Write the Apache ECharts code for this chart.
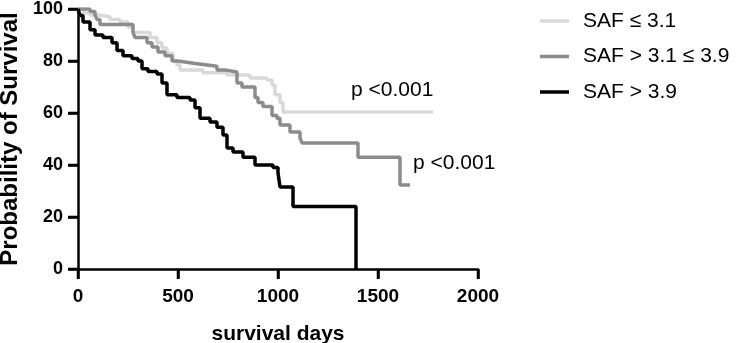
<!DOCTYPE html>
<html>
<head>
<meta charset="utf-8">
<script src="https://cdn.jsdelivr.net/npm/echarts@6/dist/echarts.min.js"></script>
<style>
html,body{margin:0;padding:0;background:#fff;}
#chart{width:738px;height:343px;}
</style>
</head>
<body>
<div id="chart"></div>
<script>
// Series names
const seriesNames = ['SAF \u2264 3.1', 'SAF > 3.1 \u2264 3.9', 'SAF > 3.9'];

// SAF <= 3.1 (light gray): days at which survival changes, and survival (%)
const lowDays   = [0, 30, 60, 110, 160, 210, 250, 275, 360, 395, 420, 445, 475, 495, 510, 625, 745, 860, 945, 970, 985, 1010, 1025, 1775];
const lowSurv   = [100, 98.5, 97.7, 97, 96, 95, 93, 91, 89, 87, 85, 83, 80, 78.5, 76.5, 75.5, 74.6, 73.5, 72.7, 70.8, 67, 64, 60.4, 60.4];

// SAF > 3.1 <= 3.9 (dark gray)
const midDays   = [0, 60, 85, 95, 110, 275, 285, 345, 370, 400, 435, 470, 500, 535, 585, 645, 695, 735, 795, 820, 885, 900, 925, 970, 995, 1010, 1060, 1110, 1120, 1400, 1610, 1660];
const midSurv   = [100, 99, 97.7, 96, 94, 91, 89, 87, 85.4, 83.5, 82, 80, 79.6, 79, 78.5, 78, 76.5, 75.8, 71.5, 70, 66, 64, 62.5, 59, 58, 55.4, 52.7, 50.4, 48.5, 43, 32.3, 32.3];

// SAF > 3.9 (black)
const highDays  = [0, 10, 25, 60, 85, 125, 170, 195, 225, 270, 300, 320, 350, 395, 420, 445, 495, 560, 585, 610, 660, 695, 725, 745, 775, 825, 885, 975, 1000, 1010, 1075, 1390];
const highSurv  = [100, 97.5, 95, 92, 90, 89, 87, 84, 82, 81, 80, 77, 76, 75, 71.5, 67, 66, 65, 62, 58, 56.5, 54.5, 51.5, 46.5, 45, 43, 40, 39, 37, 31.5, 24, 0];

// Axis ticks
const xTicks = [0, 500, 1000, 1500, 2000];
const yTicks = [0, 20, 40, 60, 80, 100];

// Annotations
const pLabels = ['p <0.001', 'p <0.001'];

function zip(a, b) { return a.map((v, i) => [v, b[i]]); }

const colors = ['#d9d9d9', '#8c8c8c', '#000000'];
const font = '"Liberation Sans", Arial, sans-serif';
const TICK = 10;

function tickRenderer(horizontal) {
  return function (params, api) {
    const p = api.coord([api.value(0), api.value(1)]);
    const shape = horizontal
      ? {x1: p[0] - TICK, y1: p[1], x2: p[0], y2: p[1]}
      : {x1: p[0], y1: p[1], x2: p[0], y2: p[1] + TICK};
    return {type: 'line', shape: shape, style: {stroke: '#000', lineWidth: 2.5}};
  };
}

const chart = echarts.init(document.getElementById('chart'));
chart.setOption({
  animation: false,
  backgroundColor: '#ffffff',
  grid: {left: 78, top: 9, width: 400, height: 260, outerBoundsMode: 'none'},
  xAxis: {
    type: 'value', min: xTicks[0], max: xTicks[xTicks.length - 1], interval: 500,
    name: 'survival days', nameLocation: 'middle', nameGap: 55,
    nameTextStyle: {fontFamily: font, fontWeight: 'bold', fontSize: 21, color: '#000'},
    axisLine: {lineStyle: {color: '#000', width: 2.5}},
    axisTick: {show: true, length: TICK, lineStyle: {color: '#000', width: 2.5}},
    axisLabel: {fontFamily: font, fontWeight: 'bold', fontSize: 19, color: '#000', margin: 18,
                formatter: v => String(v)},
    splitLine: {show: false}
  },
  yAxis: {
    type: 'value', min: yTicks[0], max: yTicks[yTicks.length - 1], interval: 20,
    name: 'Probability of Survival', nameLocation: 'middle', nameGap: 54,
    nameTextStyle: {fontFamily: font, fontWeight: 'bold', fontSize: 24, color: '#000'},
    axisLine: {show: true, lineStyle: {color: '#000', width: 2.5}},
    axisTick: {show: true, length: TICK, lineStyle: {color: '#000', width: 2.5}},
    axisLabel: {fontFamily: font, fontWeight: 'bold', fontSize: 18, color: '#000', margin: 15,
                formatter: v => String(v)},
    splitLine: {show: false}
  },
  legend: {
    orient: 'vertical', left: 535, top: 5,
    icon: 'rect', itemWidth: 29, itemHeight: 3.5, itemGap: 13.5,
    textStyle: {fontFamily: font, fontSize: 21, color: '#000', lineHeight: 22, padding: [0, 0, 0, 9]},
    data: seriesNames
  },
  series: [
    {name: seriesNames[0], type: 'line', step: 'end', symbol: 'none', data: zip(lowDays, lowSurv),
     lineStyle: {color: colors[0], width: 3.5}, itemStyle: {color: colors[0]}, z: 2},
    {name: seriesNames[1], type: 'line', step: 'end', symbol: 'none', data: zip(midDays, midSurv),
     lineStyle: {color: colors[1], width: 3.5}, itemStyle: {color: colors[1]}, z: 3},
    {name: seriesNames[2], type: 'line', step: 'end', symbol: 'none', data: zip(highDays, highSurv),
     lineStyle: {color: colors[2], width: 3.5}, itemStyle: {color: colors[2]}, z: 4},
    {type: 'custom', clip: false, silent: true, renderItem: tickRenderer(false),
     data: xTicks.map(v => [v, 0]), encode: {x: 0, y: 1}, z: 5},
    {type: 'custom', clip: false, silent: true, renderItem: tickRenderer(true),
     data: yTicks.map(v => [0, v]), encode: {x: 0, y: 1}, z: 5}
  ],
  graphic: [
    {type: 'text', left: 351, top: 80, style: {text: pLabels[0], font: '21px "Liberation Sans", Arial, sans-serif', fill: '#000'}},
    {type: 'text', left: 413, top: 153, style: {text: pLabels[1], font: '21px "Liberation Sans", Arial, sans-serif', fill: '#000'}}
  ]
});
</script>
</body>
</html>
